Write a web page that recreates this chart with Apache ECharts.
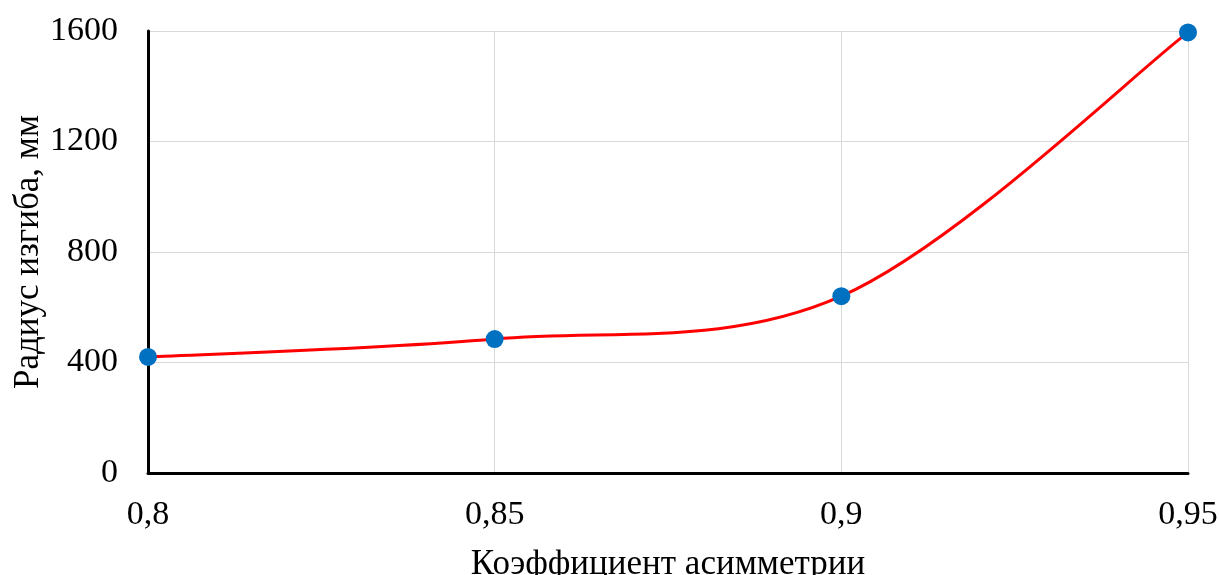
<!DOCTYPE html>
<html>
<head>
<meta charset="utf-8">
<script src="https://cdn.jsdelivr.net/npm/echarts@6/dist/echarts.min.js"></script>
<style>
  html, body { margin: 0; padding: 0; background: #fff; }
  #chart { width: 1219px; height: 575px; }
</style>
</head>
<body>
<div id="chart"></div>
<script>
// Bending radius versus asymmetry coefficient
const categories = ['0,8', '0,85', '0,9', '0,95'];
const radius = [420, 485, 640, 1595];
const yTicks = [0, 400, 800, 1200, 1600];

const font = '"Liberation Serif", "Times New Roman", serif';
const points = radius.map((v, i) => [i, v]);

// Smoothed curve: one cubic Bezier per segment, control points from
// neighbouring points (Catmull-Rom, tension 1/6), endpoints duplicated.
function renderSegment(params, api) {
  const i = params.dataIndex;
  if (i >= points.length - 1) return null;
  const pt = k => api.coord(points[Math.max(0, Math.min(points.length - 1, k))]);
  const p0 = pt(i - 1), p1 = pt(i), p2 = pt(i + 1), p3 = pt(i + 2);
  const c1 = [p1[0] + (p2[0] - p0[0]) / 6, p1[1] + (p2[1] - p0[1]) / 6];
  const c2 = [p2[0] - (p3[0] - p1[0]) / 6, p2[1] - (p3[1] - p1[1]) / 6];
  return {
    type: 'bezierCurve',
    shape: { x1: p1[0], y1: p1[1], cpx1: c1[0], cpy1: c1[1], cpx2: c2[0], cpy2: c2[1], x2: p2[0], y2: p2[1] },
    style: { stroke: '#ff0000', lineWidth: 3, fill: null, lineCap: 'round' }
  };
}

const chart = echarts.init(document.getElementById('chart'), null, { renderer: 'canvas' });
chart.setOption({
  animation: false,
  backgroundColor: '#ffffff',
  grid: { left: 148, right: 31, top: 31, bottom: 102, outerBoundsMode: 'none', containLabel: false },
  xAxis: {
    type: 'category',
    data: categories,
    boundaryGap: false,
    name: 'Коэффициент асимметрии',
    nameLocation: 'middle',
    nameGap: 74,
    nameTextStyle: { fontFamily: font, fontSize: 35, color: '#000' },
    axisLine: { lineStyle: { color: '#000', width: 3 } },
    axisTick: { show: false },
    axisLabel: { fontFamily: font, fontSize: 34, color: '#000', margin: 25 },
    splitLine: { show: true, lineStyle: { color: '#d9d9d9', width: 1 } }
  },
  yAxis: {
    type: 'value',
    min: yTicks[0],
    max: yTicks[yTicks.length - 1],
    interval: yTicks[1] - yTicks[0],
    name: 'Радиус изгиба, мм',
    nameLocation: 'middle',
    nameGap: 102,
    nameMoveOverlap: false,
    nameRotate: 90,
    nameTextStyle: { fontFamily: font, fontSize: 35, color: '#000' },
    axisLine: { show: true, lineStyle: { color: '#000', width: 3 } },
    axisTick: { show: false },
    axisLabel: {
      fontFamily: font, fontSize: 34, color: '#000', margin: 30,
      formatter: v => String(v)
    },
    splitLine: { show: true, lineStyle: { color: '#d9d9d9', width: 1 } }
  },
  series: [
    {
      type: 'custom',
      renderItem: renderSegment,
      data: points,
      encode: { x: 0, y: 1 },
      clip: false,
      z: 4
    },
    {
      type: 'scatter',
      data: points,
      symbol: 'circle',
      symbolSize: 18,
      itemStyle: { color: '#0070c0', opacity: 1 },
      z: 5
    }
  ]
});
</script>
</body>
</html>
